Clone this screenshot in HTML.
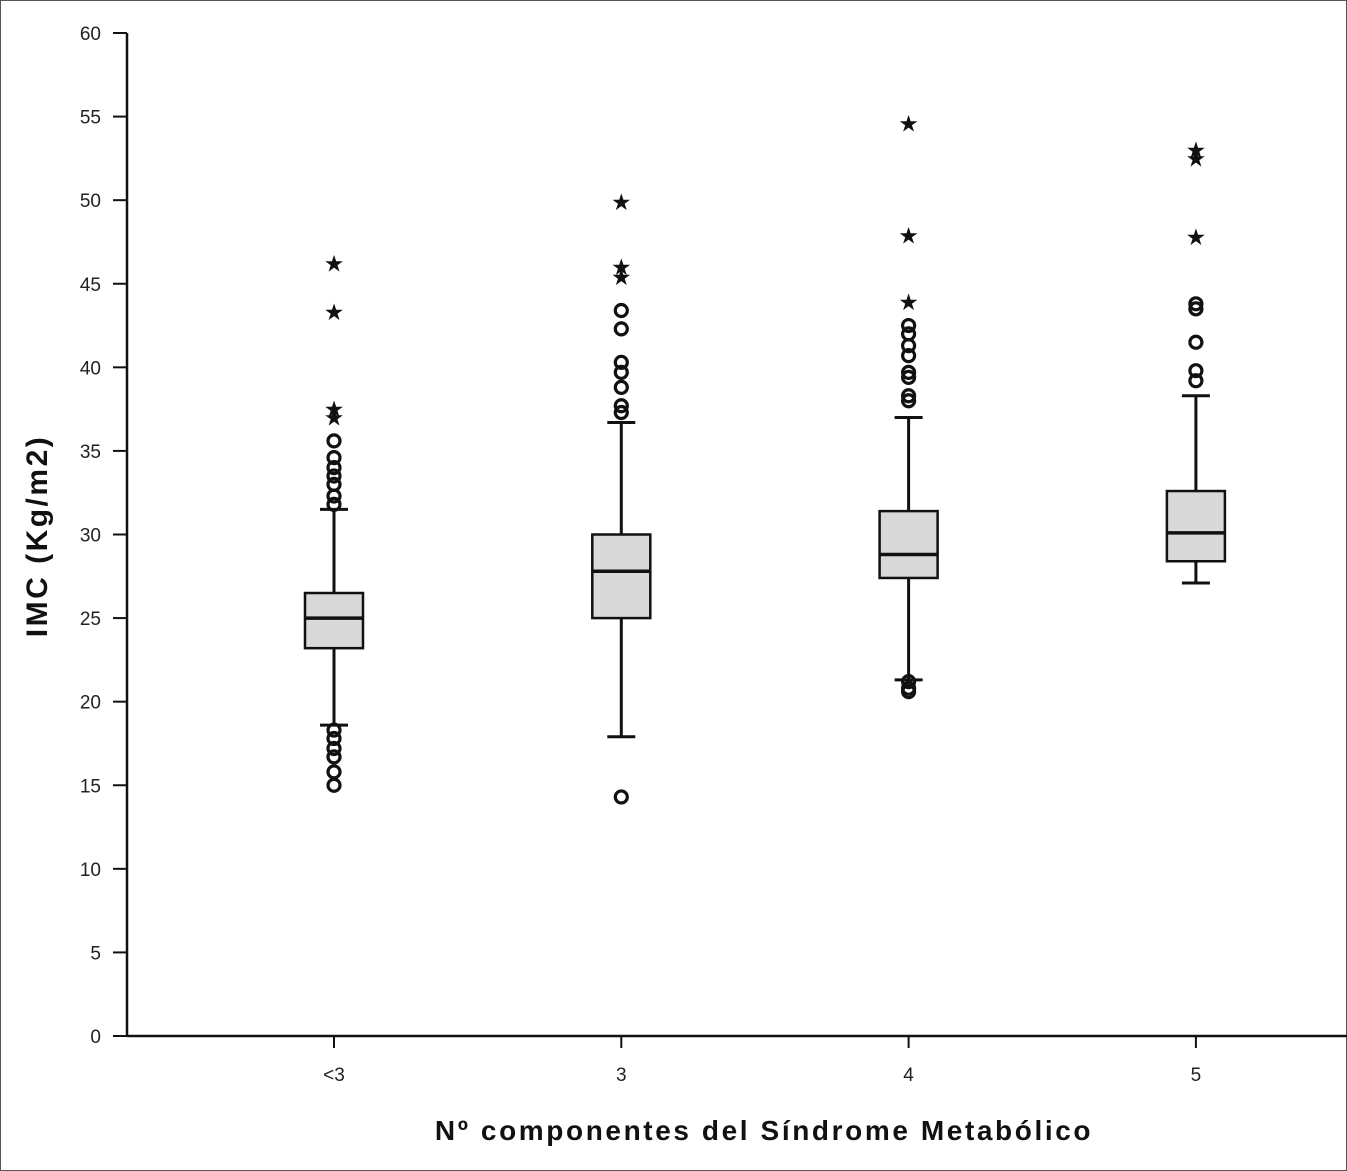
<!DOCTYPE html>
<html><head><meta charset="utf-8"><style>
html,body{margin:0;padding:0;background:#fff}
svg{display:block;font-family:"Liberation Sans",Arial,sans-serif}
</style></head><body>
<svg id="chart" width="1347" height="1171">
<rect x="0.5" y="0.5" width="1346" height="1170" fill="#fff" stroke="#555" stroke-width="1"/>
<g id="axes"></g>
<g id="marks"></g>
<text x="764" y="1140" font-size="28" font-weight="bold" letter-spacing="2.6" text-anchor="middle" fill="#111">Nº componentes del Síndrome Metabólico</text>
<text transform="translate(47,536) rotate(-90)" font-size="30" font-weight="bold" letter-spacing="2.5" text-anchor="middle" fill="#111">IMC (Kg/m2)</text>
</svg>
<script>
const categories = ["<3","3","4","5"];
const q1 = [23.2, 25.0, 27.4, 28.4];
const medians = [25.0, 27.8, 28.8, 30.1];
const q3 = [26.5, 30.0, 31.4, 32.6];
const whiskerLow = [18.6, 17.9, 21.3, 27.1];
const whiskerHigh = [31.5, 36.7, 37.0, 38.3];
const circleOutliers = [
  [35.6,34.6,34.0,33.5,33.0,32.3,31.8,18.3,17.8,17.2,16.7,15.8,15.0],
  [43.4,42.3,40.3,39.7,38.8,37.7,37.3,14.3],
  [42.5,42.0,41.3,40.7,39.7,39.4,38.3,38.0,21.2,20.8,20.6],
  [43.8,43.5,41.5,39.8,39.2]
];
const starOutliers = [
  [46.2,43.3,37.5,37.0],
  [49.9,46.0,45.4],
  [54.6,47.9,43.9],
  [53.0,52.5,47.8]
];
const yTicks = [0,5,10,15,20,25,30,35,40,45,50,55,60];

const NS="http://www.w3.org/2000/svg";
const y0=1036, yTop=33, yMax=60;
const yScale=v=>y0-(v/yMax)*(y0-yTop);
const xScale=i=>334+i*287.3;
const axes=document.getElementById('axes'), marks=document.getElementById('marks');
function mk(tag,attrs,parent){const e=document.createElementNS(NS,tag);for(const k in attrs)e.setAttribute(k,attrs[k]);parent.appendChild(e);return e;}

let l=mk('line',{x1:127,y1:yTop,x2:127,y2:y0,stroke:'#111','stroke-width':2.5},axes);


l=mk('line',{x1:127,y1:y0,x2:1347,y2:y0,stroke:'#111','stroke-width':2.5},axes);


yTicks.forEach(v=>{
  const y=yScale(v);
  const t=mk('line',{x1:113,y1:y,x2:127,y2:y,stroke:'#111','stroke-width':2},axes);
  
  
  const tx=mk('text',{x:101,y:y+7,'font-size':19,'text-anchor':'end',fill:'#222'},axes);
  tx.textContent=v;
  
  
});
categories.forEach((c,i)=>{
  const x=xScale(i);
  const t=mk('line',{x1:x,y1:y0,x2:x,y2:y0+12,stroke:'#111','stroke-width':2},axes);
  
  
  const tx=mk('text',{x:x,y:y0+45,'font-size':19,'text-anchor':'middle',fill:'#222'},axes);
  tx.textContent=c;
  
  

  const g=mk('g',{},marks);
  
  
  const hw=29, cw=14;
  mk('line',{x1:x,y1:yScale(whiskerHigh[i]),x2:x,y2:yScale(q3[i]),stroke:'#111','stroke-width':3},g);
  mk('line',{x1:x,y1:yScale(whiskerLow[i]),x2:x,y2:yScale(q1[i]),stroke:'#111','stroke-width':3},g);
  mk('line',{x1:x-cw,y1:yScale(whiskerHigh[i]),x2:x+cw,y2:yScale(whiskerHigh[i]),stroke:'#111','stroke-width':3},g);
  mk('line',{x1:x-cw,y1:yScale(whiskerLow[i]),x2:x+cw,y2:yScale(whiskerLow[i]),stroke:'#111','stroke-width':3},g);
  const b=mk('rect',{x:x-hw,y:yScale(q3[i]),width:hw*2,height:yScale(q1[i])-yScale(q3[i]),fill:'#d9d9d9',stroke:'#111','stroke-width':2.5},g);
  
  
  const m=mk('line',{x1:x-hw,y1:yScale(medians[i]),x2:x+hw,y2:yScale(medians[i]),stroke:'#111','stroke-width':3.5},g);
  
  
  circleOutliers[i].forEach(v=>{
    const o=mk('circle',{cx:x,cy:yScale(v),r:6,fill:'none',stroke:'#111','stroke-width':3.2},g);
    
    
  });
  starOutliers[i].forEach(v=>{
    const s=mk('text',{x:x,y:yScale(v)+8,'font-size':23,'text-anchor':'middle',fill:'#111'},g);
    s.textContent='★';
    
    
  });
});
</script>
</body></html>
